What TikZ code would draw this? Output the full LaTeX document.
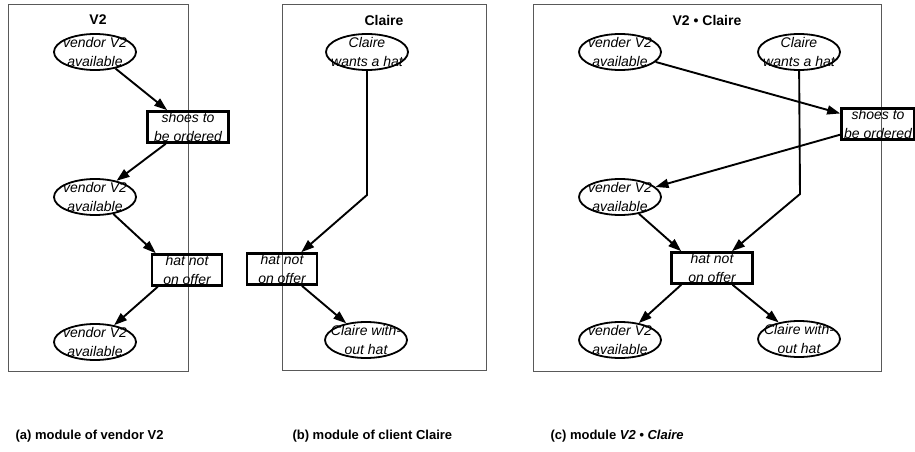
\documentclass[tikz,border=0pt]{standalone}
\usepackage{fontspec}
\setmainfont{Liberation Sans}
\usetikzlibrary{arrows.meta,shapes.geometric,positioning}

\tikzset{
  state/.style={ellipse,draw,line width=1.8pt,minimum width=82pt,minimum height=36pt,
    inner sep=-8pt,align=center,font=\fontsize{14}{19}\selectfont\itshape},
  event/.style={rectangle,draw,line width=2.6pt,minimum height=31pt,
    inner sep=-3pt,align=center,font=\fontsize{14}{19}\selectfont\itshape},
  flow/.style={-{Triangle[length=13pt,width=9pt]},line width=1.9pt},
  frame/.style={draw=black!65,line width=0.9pt},
  paneltitle/.style={font=\fontsize{14}{16}\selectfont\bfseries},
  caption/.style={anchor=west,font=\fontsize{13}{15}\selectfont\bfseries}
}

\begin{document}
\begin{tikzpicture}[x=1pt,y=-1pt]
\useasboundingbox (0,0) rectangle (915,452);

% (a) vendor V2
\draw[frame] (8,4) rectangle (188,371);
\node[paneltitle] (ta) at (98,20) {V2};
\node[state] (a1) at (95,52) {vendor V2\\available};
\node[event,minimum width=81pt] (a2) at (188,127) {shoes to\\be ordered};
\node[state] (a3) at (95,197) {vendor V2\\available};
\node[event,minimum width=70pt] (a4) at (187,270) {hat not\\on offer};
\node[state] (a5) at (95,342) {vendor V2\\available};
\draw[flow] (a1) -- (a2);
\draw[flow] (a2) -- (a3);
\draw[flow] (a3) -- ([xshift=5pt]a4.north west);
\draw[flow] ([xshift=7pt]a4.south west) -- (a5);

% (b) client Claire
\draw[frame] (282,4) rectangle (486,370);
\node[paneltitle] (tb) at (384,20) {Claire};
\node[state] (b1) at (367,52) {Claire\\wants a hat};
\coordinate (bk) at (367,195);
\node[event,minimum width=70pt] (b2) at (282,269) {hat not\\on offer};
\node[state] (b3) at (366,340) {Claire with-\\out hat};
\draw[flow] (b1) -- (bk) -- (b2);
\draw[flow] (b2) -- (b3);

% (c) V2 * Claire
\draw[frame] (533,4) rectangle (881,371);
\node[paneltitle] (tc) at (707,20) {V2 • Claire};
\node[state] (c1) at (620,52) {vender V2\\available};
\node[state] (c2) at (799,52) {Claire\\wants a hat};
\node[event,minimum width=73pt] (c3) at (878,124) {shoes to\\be ordered};
\node[state] (c4) at (620,197) {vender V2\\available};
\coordinate (ck) at (800,194);
\node[event,minimum width=81pt] (c5) at (712,268) {hat not\\on offer};
\node[state] (c6) at (620,340) {vender V2\\available};
\node[state] (c7) at (799,339) {Claire with-\\out hat};
\draw[flow] (c1) -- (c3);
\draw[flow] (c3) -- (c4);
\draw[flow] (c2) -- (ck) -- (c5);
\draw[flow] (c4) -- ([xshift=11pt]c5.north west);
\draw[flow] ([xshift=11pt]c5.south west) -- (c6);
\draw[flow] (c5) -- (c7);

% captions
\node[caption] (capa) at (12,436) {(a) module of vendor V2};
\node[caption] (capb) at (289,436) {(b) module of client Claire};
\node[caption] (capc) at (547,436) {(c) module \textit{V2 • Claire}};
\end{tikzpicture}
\end{document}
